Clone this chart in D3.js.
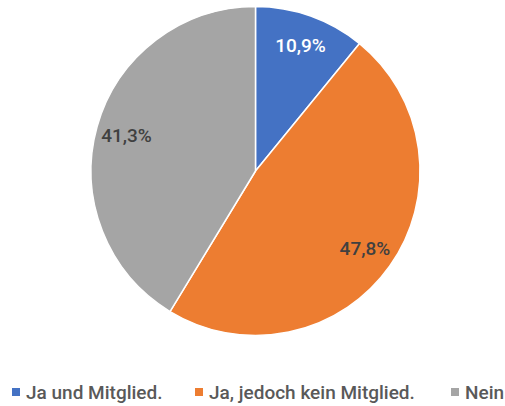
<!DOCTYPE html>
<html><head><meta charset="utf-8">
<script src="https://cdn.jsdelivr.net/npm/d3@7"></script>
<style>html,body{margin:0;padding:0;background:#fff;}</style>
</head><body>
<svg id="c" width="505" height="406"></svg>
<script>
const categories = ["Ja und Mitglied.", "Ja, jedoch kein Mitglied.", "Nein"];
const values = [10.9, 47.8, 41.3];
const labels = ["10,9%", "47,8%", "41,3%"];
const colors = ["#4472C4", "#ED7D31", "#A5A5A5"];
const labelColors = ["#FFFFFF", "#404040", "#404040"];
const legendX = [12, 195, 451];

const svg = d3.select("#c");
const cx = 255.5, cy = 171, R = 164.5;
const font = "Roboto, 'DejaVu Sans', sans-serif";

const pie = d3.pie().sort(null).value(d => d)(values);
const arc = d3.arc().innerRadius(0).outerRadius(R);
const labelArc = d3.arc().innerRadius(134).outerRadius(134);

const g = svg.append("g").attr("transform", `translate(${cx},${cy})`);
g.selectAll("path").data(pie).join("path")
  .attr("d", arc)
  .attr("fill", (d, i) => colors[i])
  .attr("stroke", "#fff")
  .attr("stroke-width", 1.5)
  .attr("stroke-linejoin", "round");

g.selectAll("text").data(pie).join("text")
  .attr("transform", d => `translate(${labelArc.centroid(d)})`)
  .attr("text-anchor", "middle")
  .attr("dy", "0.36em")
  .attr("font-family", font)
  .attr("font-size", 19)
  .attr("font-weight", 500)
  .attr("fill", (d, i) => labelColors[i])
  .text((d, i) => labels[i]);

const lg = svg.append("g");
categories.forEach((c, i) => {
  const item = lg.append("g").attr("transform", `translate(${legendX[i]},392)`);
  item.append("rect").attr("x", 0).attr("y", -4).attr("width", 8).attr("height", 8).attr("fill", colors[i]);
  item.append("text").attr("x", 14).attr("dy", "0.36em")
    .attr("font-family", font).attr("font-size", 19).attr("font-weight", 500)
    .attr("fill", "#595959").text(c);
});
</script>
</body></html>
